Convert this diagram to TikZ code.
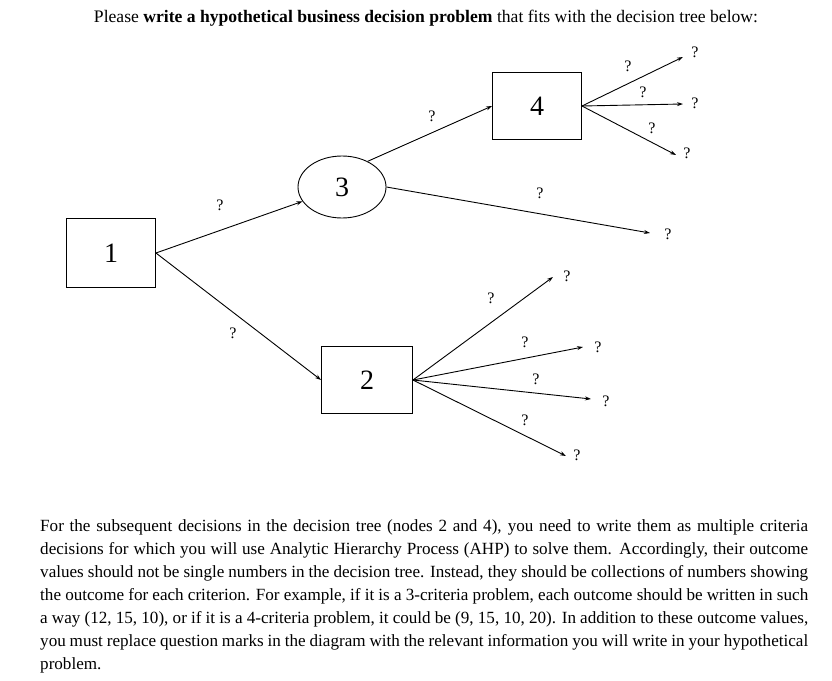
\documentclass[tikz,border=0pt]{standalone}
\usepackage{fontspec}
\setmainfont{Liberation Serif}
\usetikzlibrary{arrows.meta,shapes.geometric}
\begin{document}
\begin{tikzpicture}[x=1pt,y=-1pt,
  box/.style={draw,line width=0.9pt,inner sep=0pt,font=\fontsize{28}{28}\selectfont},
  arr/.style={line width=0.9pt,-{Stealth[length=6pt,width=4pt]}},
  q/.style={font=\fontsize{16}{16}\selectfont,inner sep=0pt}]
\useasboundingbox (0,0) rectangle (832,680);
\node[font=\fontsize{17.6}{20}\selectfont] (title) at (426,18) {Please \textbf{write a hypothetical business decision problem} that fits with the decision tree below:};
\node[box,minimum width=89pt,minimum height=69pt] (n1) at (111,253) {1};
\node[box,ellipse,minimum width=88pt,minimum height=62pt] (n3) at (342,187) {3};
\node[box,minimum width=89pt,minimum height=67pt] (n4) at (537,106) {4};
\node[box,minimum width=91pt,minimum height=67pt] (n2) at (367,380) {2};
\coordinate (c1) at (n1.east);
\coordinate (c4) at (n4.east);
\coordinate (c2) at (n2.east);
\draw[arr] (c1) -- (n3.200);
\draw[arr] (c1) -- (n2.west);
\draw[arr] (n3.45) -- (n4.west);
\coordinate (e3) at (650,233);
\draw[arr] (n3.east) -- (e3);
\coordinate (a1) at (683,57); \coordinate (a2) at (683,104); \coordinate (a3) at (676,155);
\draw[arr] (c4) -- (a1); \draw[arr] (c4) -- (a2); \draw[arr] (c4) -- (a3);
\coordinate (b1) at (553,277); \coordinate (b2) at (583,347); \coordinate (b3) at (591,399); \coordinate (b4) at (566,456);
\draw[arr] (c2) -- (b1); \draw[arr] (c2) -- (b2); \draw[arr] (c2) -- (b3); \draw[arr] (c2) -- (b4);
\foreach \n/\x/\y in {q1/220/205,q2/233/333,q3/432/116,q4/540/193,q5/668/234,
  q6/628/66,q7/695/52,q8/643/92,q9/695/103,q10/652/128,q11/687/153,
  q12/491/298,q13/567/276,q14/525/342,q15/598/347,q16/536/379,q17/606/401,q18/525/420,q19/577/455}
  \node[q] (\n) at (\x,\y) {?};
\node[anchor=north west,text width=768pt,align=justify,inner sep=0pt,font=\fontsize{17.1}{23}\selectfont] (para) at (40,519) {For the subsequent decisions in the decision tree (nodes 2 and 4), you need to write them as multiple criteria decisions for which you will use Analytic Hierarchy Process (AHP) to solve them. Accordingly, their outcome values should not be single numbers in the decision tree. Instead, they should be collections of numbers showing the outcome for each criterion. For example, if it is a 3-criteria problem, each outcome should be written in such a way (12, 15, 10), or if it is a 4-criteria problem, it could be (9, 15, 10, 20). In addition to these outcome values, you must replace question marks in the diagram with the relevant information you will write in your hypothetical problem.\par};
\end{tikzpicture}
\end{document}
